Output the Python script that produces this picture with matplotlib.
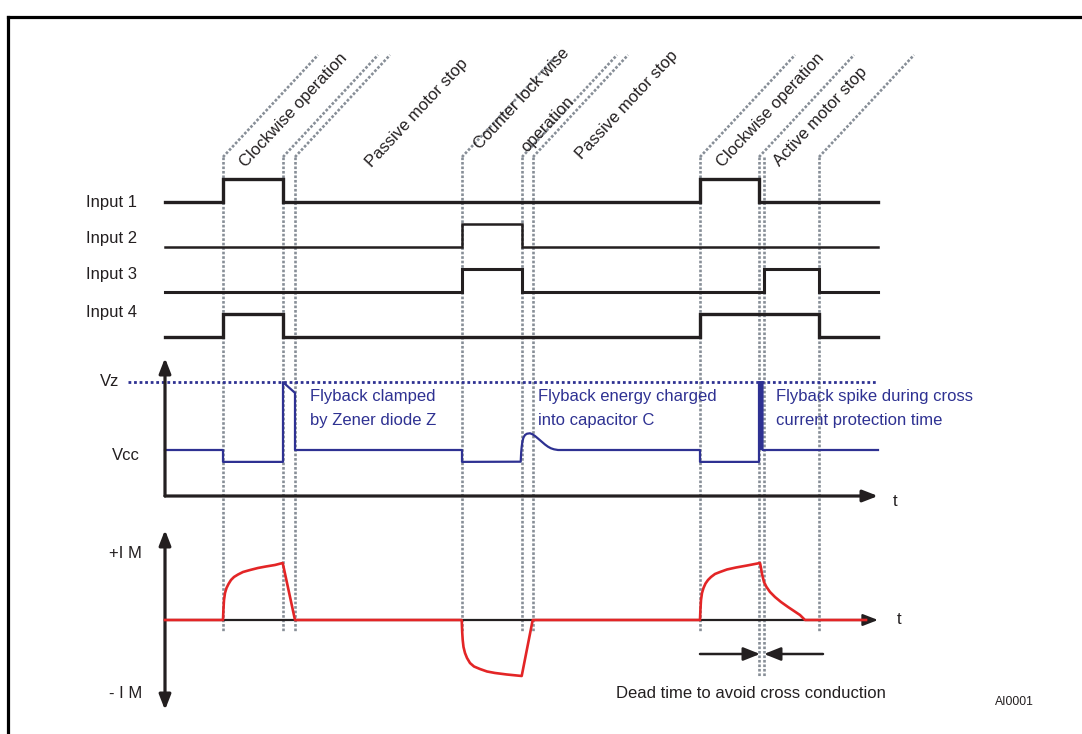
import matplotlib.pyplot as plt
from matplotlib.lines import Line2D

plt.rcParams['font.family'] = ['Liberation Sans', 'DejaVu Sans']

W, H = 1082, 734
T0_PX = 165          # pixel column of t = 0
PX_PER_US = 10       # horizontal scale
XLIM = (-T0_PX / PX_PER_US, (W - T0_PX) / PX_PER_US)

INK = '#231f20'
BLUE = '#2e3192'
RED = '#e32526'
GUIDE = '#878e97'

# ---- timing data (time in us) ----
t_end = 71.3
guide_times = [5.8, 11.8, 13.0, 29.7, 35.7, 36.8, 53.5, 59.4, 59.9, 65.4]
guide_slanted = [True, True, True, True, True, True, True, True, False, True]
guide_long = [False, False, False, False, False, False, False, True, True, False]

phase_labels = ['Clockwise operation', 'Passive motor stop', 'Counter lock wise',
                'operation', 'Passive motor stop', 'Clockwise operation',
                'Active motor stop']
phase_t = [8.1, 20.7, 31.5, 36.2, 41.7, 55.8, 61.5]
phase_y = [168, 168, 150, 153, 160, 168, 167]

input_names = ['Input 1', 'Input 2', 'Input 3', 'Input 4']
input_pulses = [
    [(5.8, 11.8), (53.5, 59.4)],
    [(29.7, 35.7)],
    [(29.7, 35.7), (59.9, 65.4)],
    [(5.8, 11.8), (53.5, 65.4)],
]
input_lw = [2.4, 1.8, 2.2, 2.4]
input_base_px = [202, 247, 292, 337]
input_label_y = [203, 239, 275, 313]

# supply voltage (V)
vcc = 12.0
vz = 29.7
v_t = [0, 5.8, 5.8, 11.8, 11.8, 13.0, 13.0, 29.7, 29.7,
       35.57, 35.62, 35.67, 35.75, 35.85, 36.0, 36.2, 36.5, 36.75, 37.0,
       37.3, 37.67, 38.0, 38.3, 38.6, 38.9, 39.3,
       53.5, 53.5, 59.4, 59.4, 59.75, 59.75, 71.3]
v_val = [12, 12, 8.9, 8.9, 29.7, 26.9, 12, 12, 8.9,
         8.95, 11.48, 12.86, 14.35, 15.26, 15.91, 16.25, 16.36, 16.1, 15.65,
         15.0, 14.17, 13.43, 12.86, 12.44, 12.18, 12,
         12, 8.9, 8.9, 29.7, 29.7, 12, 12]
spike_t = [59.4, 59.75]

# motor current (relative to IM)
i_t = [0,
       5.8, 5.84, 5.9, 6.0, 6.15, 6.35, 6.6, 6.9, 7.3, 7.8, 8.5, 9.3, 10.1,
       11.0, 11.77, 13.0,
       29.67, 29.72, 29.77, 29.85, 30.0, 30.2, 30.5, 30.9, 31.5, 32.2, 33.0,
       34.17, 35.67, 36.77,
       53.5, 53.54, 53.6, 53.7, 53.85, 54.05, 54.3, 54.6, 55.0, 55.5, 56.2,
       57.1, 58.2, 59.5, 59.6, 59.7, 59.9, 60.15, 60.5, 61.0, 61.6, 62.3,
       62.9, 63.5, 64.0,
       70.1]
i_val = [0,
         0, .167, .333, .45, .533, .6, .667, .717, .758, .8, .833, .867, .892,
         .917, .95, 0,
         0, -.2, -.333, -.45, -.55, -.633, -.717, -.775, -.817, -.858, -.883,
         -.908, -.933, 0,
         0, .167, .333, .45, .533, .608, .667, .717, .767, .8, .842,
         .875, .908, .95, .867, .767, .633, .55, .467, .383, .3, .217,
         .15, .083, 0,
         0]

flyback_notes = [
    (14.5, ['Flyback clamped', 'by Zener diode Z']),
    (37.3, ['Flyback energy charged', 'into capacitor C']),
    (61.1, ['Flyback spike during cross', 'current protection time']),
]

fig = plt.figure(figsize=(W / 100, H / 100), dpi=100)


def overlay(y0_px, px_per_unit):
    a = fig.add_axes([0, 0, 1, 1], facecolor='none')
    a.set_xlim(*XLIM)
    a.set_ylim(-(H - y0_px) / px_per_unit, y0_px / px_per_unit)
    a.axis('off')
    return a


# layout axes: x in us, y in pixels from top
ax = fig.add_axes([0, 0, 1, 1])
ax.set_xlim(*XLIM)
ax.set_ylim(H, 0)
ax.axis('off')

# frame
fig.add_artist(Line2D([8 / W, 1], [1 - 16.5 / H] * 2, color='black', lw=2.3))
fig.add_artist(Line2D([8 / W] * 2, [0, 1 - 16.5 / H], color='black', lw=2.3))

# dotted guide lines
dot = (0, (1.0, 0.7))
for t, sl, lg in zip(guide_times, guide_slanted, guide_long):
    ax.plot([t, t], [157, 677 if lg else 632], color=GUIDE, lw=1.9, ls=dot, zorder=1)
    if sl:
        ax.plot([t, t + 9.5], [157, 55], color=GUIDE, lw=1.9, ls=dot, zorder=1)

for txt, t, y in zip(phase_labels, phase_t, phase_y):
    ax.text(t, y, txt, rotation=47, rotation_mode='anchor', ha='left',
            va='baseline', fontsize=12, color=INK)

# inputs
for name, pulses, lw, base, ly in zip(input_names, input_pulses, input_lw,
                                      input_base_px, input_label_y):
    a = overlay(base, 23)
    xs, ys = [0], [0]
    for on, off in pulses:
        xs += [on, on, off, off]
        ys += [0, 1, 1, 0]
    xs.append(t_end)
    ys.append(0)
    a.plot(xs, ys, color=INK, lw=lw, solid_joinstyle='miter')
    ax.text(-7.9, ly, name, ha='left', va='center', fontsize=12, color=INK)

# supply voltage panel
axv = overlay(496, 46 / vcc)
axv.plot([-3.7, t_end], [vz, vz], color=BLUE, lw=2, ls=(0, (1, 1)))
axv.plot(v_t, v_val, color=BLUE, lw=1.6)
axv.fill_between(spike_t, vcc, vz, color=BLUE, lw=0)
axv.annotate('', xy=(0, 36), xytext=(0, 0),
             arrowprops=dict(arrowstyle='-|>,head_length=0.9,head_width=0.35',
                             lw=2.3, color=INK, shrinkA=0, shrinkB=0))
axv.annotate('', xy=(t_end, 0), xytext=(0, 0),
             arrowprops=dict(arrowstyle='-|>,head_length=0.9,head_width=0.35',
                             lw=2.3, color=INK, shrinkA=0, shrinkB=0))
ax.text(-6.5, 382, 'Vz', ha='left', va='center', fontsize=12, color=INK)
ax.text(-5.3, 456, 'Vcc', ha='left', va='center', fontsize=12, color=INK)
ax.text(72.8, 502, 't', ha='left', va='center', fontsize=12, color=INK)
for t, lines in flyback_notes:
    for k, line in enumerate(lines):
        ax.text(t, 396 + 24 * k, line, ha='left', va='center', fontsize=12,
                color=BLUE)

# motor current panel
axi = overlay(620, 60)
axi.annotate('', xy=(0, 1.5), xytext=(0, -1.5),
             arrowprops=dict(arrowstyle='<|-|>,head_length=0.9,head_width=0.35',
                             lw=2.3, color=INK, shrinkA=0, shrinkB=0))
axi.annotate('', xy=(t_end, 0), xytext=(0, 0),
             arrowprops=dict(arrowstyle='-|>,head_length=0.9,head_width=0.35',
                             lw=1.6, color=INK, shrinkA=0, shrinkB=0))
axi.plot(i_t, i_val, color=RED, lw=1.9, zorder=3)
ax.text(-5.6, 553, '+I M', ha='left', va='center', fontsize=12, color=INK)
ax.text(-5.6, 693, '- I M', ha='left', va='center', fontsize=12, color=INK)
ax.text(73.2, 620, 't', ha='left', va='center', fontsize=12, color=INK)

# dead time marker
ax.annotate('', xy=(59.5, 654), xytext=(53.5, 654),
            arrowprops=dict(arrowstyle='-|>,head_length=1.0,head_width=0.4',
                            lw=1.8, color=INK, shrinkA=0, shrinkB=0))
ax.annotate('', xy=(59.9, 654), xytext=(65.8, 654),
            arrowprops=dict(arrowstyle='-|>,head_length=1.0,head_width=0.4',
                            lw=1.8, color=INK, shrinkA=0, shrinkB=0))
ax.text(45.1, 694, 'Dead time to avoid cross conduction', ha='left',
        va='center', fontsize=12, color=INK)
ax.text(83.0, 702, 'AI0001', ha='left', va='center', fontsize=8.7, color=INK)

fig.savefig('out.png', dpi=100)
